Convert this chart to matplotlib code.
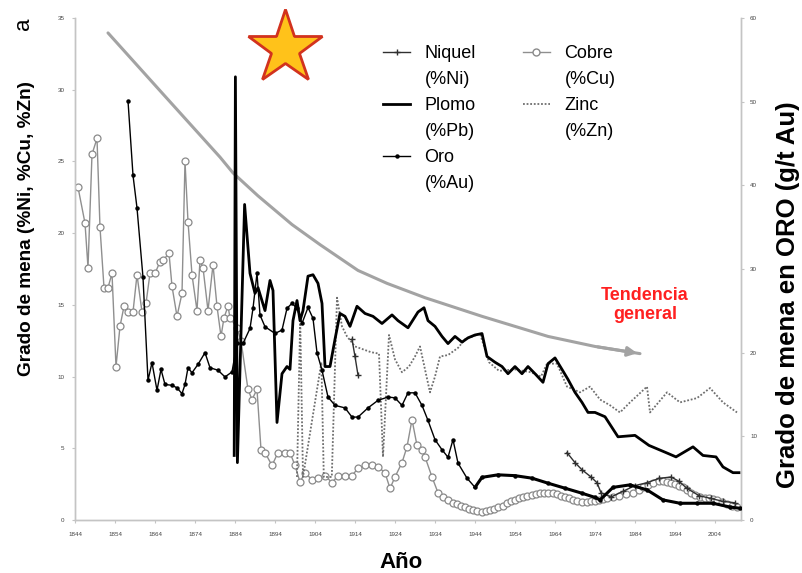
import numpy as np
import matplotlib.pyplot as plt
from matplotlib.lines import Line2D

plt.rcParams['font.family'] = ['Liberation Sans', 'DejaVu Sans']

# Cobre (%Cu)
cu_years = [1844.75, 1846.5, 1847.25, 1848.25, 1849.5, 1850.25, 1851.25, 1852.25, 1853.25, 1854.25,
            1855.25, 1856.25, 1857.25, 1858.5, 1859.5, 1860.75, 1861.75, 1862.75, 1864, 1865.25,
            1866, 1867.5, 1868.25, 1869.5, 1870.75, 1871.5, 1872.25, 1873.25, 1874.5, 1875.25,
            1876, 1877.25, 1878.5, 1879.5, 1880.5, 1881.25, 1882.25, 1882.75, 1884.5, 1885.5,
            1887.25, 1888.25, 1889.5, 1890.5, 1891.5, 1893.25, 1894.75, 1896.5, 1897.75, 1899,
            1900.25, 1901.5, 1903.25, 1904.75, 1906.5, 1908.25, 1909.75, 1911.5, 1913.25, 1914.75,
            1916.5, 1918.25, 1919.75, 1921.5, 1922.75, 1924, 1925.75, 1927, 1928.25, 1929.5,
            1930.75, 1931.5, 1933.25, 1934.75, 1936, 1937.25, 1938.5, 1939.5, 1940.5, 1941.5,
            1942.5, 1943.5, 1944.5, 1945.75, 1946.75, 1947.75, 1948.75, 1949.75, 1951, 1952,
            1953, 1954, 1955, 1956, 1957, 1958.25, 1959.25, 1960.25, 1961.25, 1962.25,
            1963.5, 1964.5, 1965.5, 1966.5, 1967.5, 1968.5, 1969.5, 1970.75, 1972, 1973,
            1974, 1975, 1976, 1977, 1978.5, 1980, 1981.75, 1983.5, 1985, 1986,
            1987.25, 1988.5, 1990, 1991, 1992, 1993, 1994, 1995, 1996, 1997,
            1998, 1999, 2000.25, 2001.5, 2002.5, 2003.5, 2004.5, 2005.75, 2007, 2008.25,
            2009.5]
cu_grade = [23.2, 20.7, 17.6, 25.5, 26.6, 20.4, 16.2, 16.2, 17.2, 10.7,
            13.5, 14.9, 14.5, 14.5, 17.1, 14.5, 15.1, 17.2, 17.2, 18.0,
            18.1, 18.6, 16.3, 14.2, 15.8, 25.0, 20.8, 17.1, 14.6, 18.1,
            17.6, 14.6, 17.8, 14.9, 12.8, 14.1, 14.9, 14.1, 13.4, 12.5,
            9.1, 8.4, 9.1, 4.9, 4.7, 3.8, 4.7, 4.7, 4.7, 3.8,
            2.65, 3.3, 2.8, 2.9, 3.1, 2.6, 3.1, 3.1, 3.1, 3.6,
            3.8, 3.8, 3.7, 3.3, 2.2, 3.0, 4.0, 5.1, 7.0, 5.2,
            4.9, 4.4, 3.0, 1.9, 1.6, 1.4, 1.2, 1.1, 1.0, 0.9,
            0.8, 0.7, 0.6, 0.56, 0.6, 0.7, 0.8, 0.9, 1.0, 1.2,
            1.3, 1.4, 1.5, 1.6, 1.7, 1.74, 1.8, 1.9, 1.9, 1.9,
            1.85, 1.8, 1.7, 1.6, 1.5, 1.4, 1.3, 1.26, 1.25, 1.3,
            1.35, 1.4, 1.45, 1.5, 1.6, 1.7, 1.8, 1.9, 2.1, 2.3,
            2.45, 2.6, 2.7, 2.7, 2.65, 2.6, 2.5, 2.4, 2.3, 2.1,
            1.9, 1.75, 1.6, 1.55, 1.5, 1.45, 1.4, 1.25, 1.1, 1.0,
            0.9]

# Oro (g/t Au) - eje derecho
au_years = [1857.25, 1858.5, 1859.5, 1861, 1862.25, 1863.25, 1864.5, 1865.5, 1866.5, 1868.25,
            1869.5, 1870.75, 1871.5, 1872.25, 1873.25, 1874.75, 1876.5, 1877.75, 1879.75, 1881.5,
            1883.25, 1884.5, 1886, 1887.75, 1888.5, 1889.5, 1890.25, 1891.5, 1894, 1895.75,
            1897, 1898.25, 1899.5, 1900.75, 1902.25, 1903.5, 1904.5, 1905.75, 1907.25, 1909,
            1911.5, 1913.25, 1914.75, 1917.25, 1919.75, 1922.25, 1924, 1925.75, 1927.25, 1929,
            1930.75, 1932.25, 1934, 1935.75, 1937.25, 1938.5, 1939.75, 1942, 1944, 1945.75,
            1949.75, 1954, 1958.25, 1962.25, 1966.5, 1970.75, 1974, 1975.25, 1978.5, 1982.75,
            1987, 1991, 1995.25, 1999.5, 2003.5, 2007.75, 2010.25]
au_grade = [50.1, 41.2, 37.3, 29.0, 16.7, 18.8, 15.5, 18.0, 16.2, 16.1,
            15.8, 15.1, 16.2, 18.2, 17.6, 18.6, 20.0, 18.2, 17.9, 17.1,
            17.7, 21.1, 21.1, 22.9, 25.3, 29.5, 24.5, 23.1, 22.3, 22.7,
            25.3, 25.9, 25.3, 23.5, 25.4, 24.1, 20.0, 17.9, 14.7, 13.7,
            13.4, 12.3, 12.3, 13.4, 14.3, 14.7, 14.6, 13.7, 15.2, 15.2,
            13.7, 11.9, 9.6, 8.4, 7.5, 9.6, 6.8, 5.0, 3.9, 5.1,
            5.4, 5.3, 5.0, 4.4, 3.8, 3.2, 2.7, 2.4, 3.9, 4.2,
            3.6, 2.4, 2.0, 2.0, 2.0, 1.55, 1.4]

# Plomo (%Pb)
pb_years = [1883.8, 1884.1, 1884.6, 1886.4, 1887.75, 1889, 1889.75, 1891.5, 1892.75, 1893.5,
            1894.5, 1895.75, 1897, 1897.75, 1898.5, 1899.5, 1900.25, 1901, 1902.25, 1903.5,
            1904.75, 1905.75, 1906.5, 1907.75, 1909, 1910.25, 1911.5, 1912.75, 1914.5, 1916.5,
            1918.5, 1920.75, 1923.25, 1924.75, 1927.25, 1929.75, 1931.25, 1932.25, 1934, 1935.75,
            1937.25, 1939, 1940.75, 1942.25, 1944, 1945.75, 1947, 1949, 1950.75, 1952.25,
            1954, 1955.75, 1957.25, 1959, 1961, 1962.25, 1964, 1965.75, 1967.25, 1969,
            1970.75, 1972.25, 1974, 1976.5, 1979.75, 1984, 1987.5, 1991.75, 1994.25, 1998.5,
            2001, 2004.25, 2006, 2008.5, 2010]
pb_grade = [4.5, 30.9, 4.0, 22.0, 17.2, 15.8, 16.2, 14.6, 16.7, 16.0,
            6.8, 10.2, 10.7, 10.5, 13.9, 15.3, 13.9, 14.6, 17.0, 17.1,
            16.5, 15.1, 10.7, 10.7, 12.6, 14.4, 14.2, 13.5, 14.9, 14.4,
            14.2, 13.7, 14.3, 13.9, 13.4, 14.5, 14.8, 13.9, 13.5, 12.8,
            12.3, 12.8, 12.4, 12.7, 12.9, 13.0, 11.4, 11.0, 10.7, 10.2,
            10.7, 10.2, 10.7, 10.2, 9.6, 10.9, 11.3, 10.5, 9.8, 8.9,
            8.2, 7.5, 7.5, 7.2, 5.8, 5.9, 5.2, 4.7, 4.4, 5.1,
            4.5, 4.4, 3.7, 3.3, 3.3]

# Zinc (%Zn)
zn_years = [1899.5, 1900.3, 1901.0, 1905.6, 1906.2, 1908.2, 1909.5, 1910.75, 1912, 1914,
            1916, 1918, 1920, 1921, 1922.5, 1924, 1925.75, 1927.5, 1929, 1930.25,
            1931.5, 1932.75, 1934, 1935.25, 1937.25, 1939.75, 1941.5, 1943.5, 1945.25, 1947.5,
            1950, 1954, 1958, 1960.5, 1962, 1964.5, 1967, 1970.25, 1972.75, 1975.25,
            1977.75, 1980.25, 1982.75, 1987, 1987.75, 1992, 1995.25, 1999.5, 2002.75, 2006,
            2009.5]
zn_grade = [3.0, 14.0, 3.0, 11.0, 3.0, 3.0, 15.5, 13.5, 12.8, 12.1,
            11.9, 11.7, 11.6, 4.4, 12.9, 11.2, 10.3, 10.7, 11.4, 12.1,
            10.5, 8.9, 10.0, 11.4, 11.5, 12.0, 12.6, 12.8, 13.0, 11.0,
            10.4, 10.5, 10.3, 10.0, 10.9, 10.9, 9.3, 8.9, 9.3, 8.4,
            8.0, 7.5, 8.2, 9.3, 7.5, 8.9, 8.2, 8.5, 9.2, 8.2,
            7.5]

# Niquel (%Ni)
ni_years = [1913.25, 1914.0, 1914.75, 1915.5, 1967.0, 1969.0, 1970.75, 1973.0, 1974.5, 1975.5,
            1978.0, 1981.0, 1984.0, 1987.0, 1990.0, 1993.0, 1995.0, 1997.0, 2000.0, 2003.0,
            2006.0, 2009.0]
ni_grade = [12.6, 11.4, 10.1, np.nan, 4.7, 4.0, 3.5, 3.0, 2.6, 1.9,
            1.6, 2.0, 2.4, 2.6, 2.9, 3.0, 2.7, 2.2, 1.7, 1.5,
            1.3, 1.2]

# Tendencia general (curva gris con flecha)
trend_years = [1852.25, 1866, 1880.25, 1883.5, 1889.75, 1898.25, 1905.25, 1914.75, 1922, 1931.5,
               1945.75, 1962.25, 1974, 1985.25]
trend_grade = [33.96, 29.7, 25.3, 24.2, 22.6, 20.6, 19.2, 17.4, 16.5, 15.5,
               14.2, 12.8, 12.1, 11.6]

year_ticks = list(range(1844, 2005, 10))

fig = plt.figure(figsize=(8.02, 5.73), dpi=100)
ax = fig.add_axes([75 / 802, 1 - 520 / 573, 666 / 802, 502 / 573])
ax2 = ax.twinx()

# trend curve
ax.plot(trend_years, trend_grade, color='#a3a3a3', lw=2.2, solid_capstyle='round', zorder=1)
ax.annotate('', xy=(trend_years[-1], trend_grade[-1]), xytext=(trend_years[-2], trend_grade[-2]),
            arrowprops=dict(arrowstyle='-|>', color='#a3a3a3', lw=2.2, mutation_scale=14))

ax.plot(cu_years, cu_grade, color='#8f8f8f', lw=1, marker='o', ms=5, mfc='white', mec='#8a8a8a',
        mew=0.9, zorder=2)
ax.plot(zn_years, zn_grade, color='#6e6e6e', lw=1.3, linestyle=(0, (1, 1)), zorder=3)
ax.plot(ni_years, ni_grade, color='#303030', lw=1, marker='+', ms=4, mew=1, zorder=3)
ax.plot(pb_years, pb_grade, color='black', lw=2, zorder=4)

# gold on the right axis
au_y = np.array(au_years)
au_g = np.array(au_grade)
ax2.plot(au_y, au_g, color='black', lw=1, marker='o', ms=2.2, zorder=3)
late = au_y >= 1944
ax2.plot(au_y[late], au_g[late], color='black', lw=2.2, zorder=3)

ax.set_xlim(1844, 2010.5)
ax.set_ylim(0, 35)
ax2.set_ylim(0, 60)
ax.set_xticks(year_ticks)
ax.set_yticks(range(0, 36, 5))
ax2.set_yticks(range(0, 61, 10))

for a in (ax, ax2):
    a.spines['top'].set_visible(False)
    for s in ('left', 'right', 'bottom'):
        a.spines[s].set_color('#c4c4c4')
        a.spines[s].set_linewidth(1)
    a.tick_params(colors='#c4c4c4', labelcolor='#444444', labelsize=4.5, length=2.5, width=0.8)
ax.tick_params(axis='x', pad=6)
ax.tick_params(axis='y', pad=5)
ax2.tick_params(axis='y', pad=4)

# axis titles
fig.text(27 / 802, 1 - 228 / 573, 'Grado de mena (%Ni, %Cu, %Zn)', rotation=90, ha='center',
         va='center', fontsize=13.7, fontweight='bold')
fig.text(788 / 802, 1 - 295 / 573, 'Grado de mena en ORO (g/t Au)', rotation=90, ha='center',
         va='center', fontsize=18.5, fontweight='bold')
fig.text(401 / 802, 1 - 563 / 573, 'Año', ha='center', va='center', fontsize=16, fontweight='bold')
fig.text(24 / 802, 1 - 24 / 573, 'a', rotation=90, ha='center', va='center', fontsize=16)

ax.text(1986.5, 15.0, 'Tendencia\ngeneral', color='#ff2020', fontsize=13, fontweight='bold',
        ha='center', va='center')

# star
ax2.plot([0.315], [0.94], marker='*', ms=56, mfc='#ffc21a', mec='#d2321e', mew=2,
         transform=ax2.transAxes, clip_on=False, zorder=6)

# legend
blank = Line2D([], [], color='none')
handles = [Line2D([], [], color='#303030', lw=1, marker='+', ms=4), blank,
           Line2D([], [], color='black', lw=2), blank,
           Line2D([], [], color='black', lw=1, marker='o', ms=2.2), blank,
           Line2D([], [], color='#8f8f8f', lw=1, marker='o', ms=5, mfc='white', mec='#8a8a8a'), blank,
           Line2D([], [], color='#6e6e6e', lw=1.3, linestyle=(0, (1, 1))), blank,
           blank, blank]
labels = ['Niquel', '(%Ni)', 'Plomo', '(%Pb)', 'Oro', '(%Au)',
          'Cobre', '(%Cu)', 'Zinc', '(%Zn)', '', '']
ax2.legend(handles, labels, ncol=2, loc='upper left', bbox_to_anchor=(0.4625, 0.946),
           frameon=False, fontsize=13, borderpad=0, borderaxespad=0, labelspacing=0.5,
           handlelength=1.5, handletextpad=0.8, columnspacing=2.6)

plt.savefig('out.png', dpi=100)
